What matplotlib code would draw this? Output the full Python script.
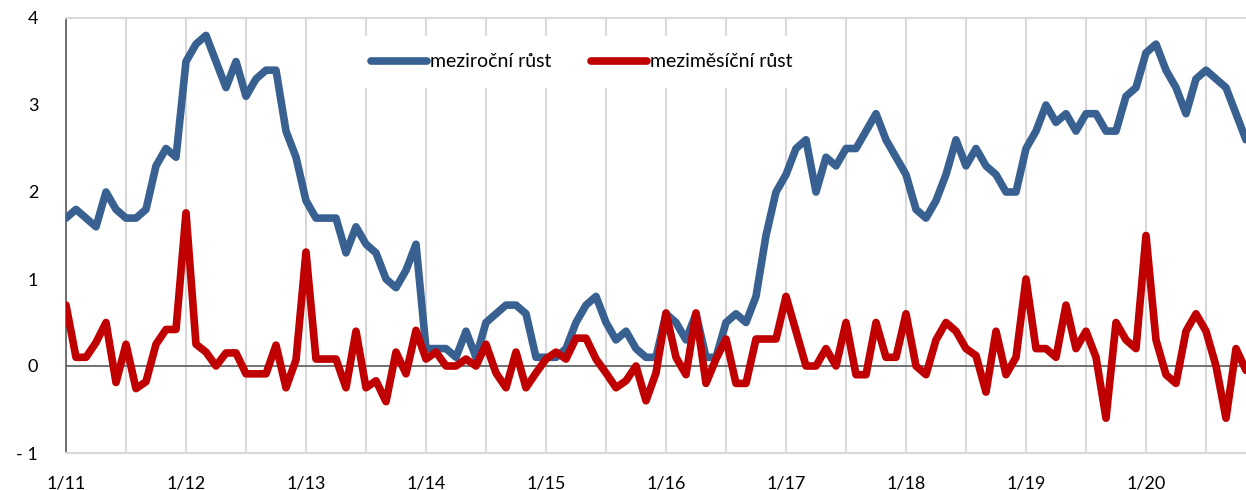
import matplotlib
matplotlib.use("Agg")
import matplotlib.pyplot as plt

# inflation, monthly 1/2011 - 11/2020
yoy_2011 = [1.7, 1.8, 1.7, 1.6, 2.0, 1.8, 1.7, 1.7, 1.8, 2.3, 2.5, 2.4]
yoy_2012 = [3.5, 3.7, 3.8, 3.5, 3.2, 3.5, 3.1, 3.3, 3.4, 3.4, 2.7, 2.4]
yoy_2013 = [1.9, 1.7, 1.7, 1.7, 1.3, 1.6, 1.4, 1.3, 1.0, 0.9, 1.1, 1.4]
yoy_2014 = [0.2, 0.2, 0.2, 0.1, 0.4, 0.1, 0.5, 0.6, 0.7, 0.7, 0.6, 0.1]
yoy_2015 = [0.1, 0.1, 0.2, 0.5, 0.7, 0.8, 0.5, 0.3, 0.4, 0.2, 0.1, 0.1]
yoy_2016 = [0.6, 0.5, 0.3, 0.6, 0.1, 0.1, 0.5, 0.6, 0.5, 0.8, 1.5, 2.0]
yoy_2017 = [2.2, 2.5, 2.6, 2.0, 2.4, 2.3, 2.5, 2.5, 2.7, 2.9, 2.6, 2.4]
yoy_2018 = [2.2, 1.8, 1.7, 1.9, 2.2, 2.6, 2.3, 2.5, 2.3, 2.2, 2.0, 2.0]
yoy_2019 = [2.5, 2.7, 3.0, 2.8, 2.9, 2.7, 2.9, 2.9, 2.7, 2.7, 3.1, 3.2]
yoy_2020 = [3.6, 3.7, 3.4, 3.2, 2.9, 3.3, 3.4, 3.3, 3.2, 2.9, 2.6]

mom_2011 = [0.7, 0.1, 0.1, 0.27, 0.5, -0.19, 0.25, -0.26, -0.18, 0.25, 0.42, 0.42]
mom_2012 = [1.76, 0.25, 0.16, 0.0, 0.15, 0.15, -0.09, -0.09, -0.09, 0.24, -0.25, 0.07]
mom_2013 = [1.31, 0.08, 0.08, 0.08, -0.25, 0.4, -0.25, -0.17, -0.41, 0.16, -0.09, 0.41]
mom_2014 = [0.08, 0.16, 0.0, 0.0, 0.08, 0.0, 0.25, -0.08, -0.25, 0.16, -0.25, -0.08]
mom_2015 = [0.08, 0.16, 0.08, 0.32, 0.32, 0.08, -0.08, -0.25, -0.17, 0.0, -0.4, -0.08]
mom_2016 = [0.61, 0.1, -0.1, 0.61, -0.2, 0.08, 0.31, -0.2, -0.2, 0.31, 0.31, 0.31]
mom_2017 = [0.8, 0.4, 0.0, 0.0, 0.2, 0.0, 0.5, -0.1, -0.1, 0.5, 0.1, 0.1]
mom_2018 = [0.6, 0.0, -0.1, 0.3, 0.5, 0.4, 0.2, 0.12, -0.3, 0.4, -0.1, 0.1]
mom_2019 = [1.0, 0.2, 0.2, 0.1, 0.7, 0.2, 0.4, 0.1, -0.6, 0.5, 0.3, 0.2]
mom_2020 = [1.5, 0.3, -0.1, -0.2, 0.4, 0.6, 0.4, 0.0, -0.6, 0.2, -0.05]

x_labels = ["1/11", "1/12", "1/13", "1/14", "1/15", "1/16", "1/17", "1/18", "1/19", "1/20"]
y_ticks = [-1, 0, 1, 2, 3, 4]
y_labels = ["- 1", "0", "1", "2", "3", "4"]

yoy = (yoy_2011 + yoy_2012 + yoy_2013 + yoy_2014 + yoy_2015 + yoy_2016
       + yoy_2017 + yoy_2018 + yoy_2019 + yoy_2020)
mom = (mom_2011 + mom_2012 + mom_2013 + mom_2014 + mom_2015 + mom_2016
       + mom_2017 + mom_2018 + mom_2019 + mom_2020)
months = list(range(len(yoy)))

plt.rcParams['font.family'] = ['Lato', 'DejaVu Sans']

fig = plt.figure(figsize=(12.46, 4.9), dpi=100)
ax = fig.add_axes([66 / 1246, 37 / 490, 1180 / 1246, 435 / 490])

ax.plot(months, yoy, color="#386192", linewidth=5.5, label="meziroční růst",
        solid_joinstyle="round", solid_capstyle="round", zorder=3)
ax.plot(months, mom, color="#c00000", linewidth=5.5, label="meziměsíční růst",
        solid_joinstyle="round", solid_capstyle="round", zorder=4)
ax.axhline(0, color="#595959", linewidth=1.2, zorder=2)

ax.set_xlim(0, 118)
ax.set_ylim(-1, 4)
ax.set_xticks([12 * i for i in range(len(x_labels))])
ax.set_xticklabels(x_labels, fontsize=13)
ax.set_xticks([6 + 12 * i for i in range(10)], minor=True)
ax.set_yticks(y_ticks)
ax.set_yticklabels(y_labels, fontsize=13)
ax.tick_params(axis="both", which="both", length=0)
ax.tick_params(axis="y", pad=20)
ax.tick_params(axis="x", pad=16)

ax.grid(axis="x", which="both", color="#d9d9d9", linewidth=1.5, zorder=0)
ax.set_axisbelow(True)

ax.spines["right"].set_visible(False)
ax.spines["top"].set_color("#d9d9d9")
ax.spines["top"].set_linewidth(1.5)
ax.spines["bottom"].set_color("#d9d9d9")
ax.spines["bottom"].set_linewidth(1.5)
ax.spines["left"].set_color("#595959")
ax.spines["left"].set_linewidth(1.2)

leg = ax.legend(loc="center", bbox_to_anchor=(0.437, 0.899), ncol=2, frameon=True,
                fontsize=14, handlelength=2.9, handletextpad=0.15, columnspacing=2.0,
                borderpad=0.9, fancybox=False)
leg.get_frame().set_facecolor("white")
leg.get_frame().set_edgecolor("none")
leg.get_frame().set_alpha(1.0)
for line in leg.get_lines():
    line.set_solid_capstyle("round")

fig.savefig("out.png", dpi=100)
